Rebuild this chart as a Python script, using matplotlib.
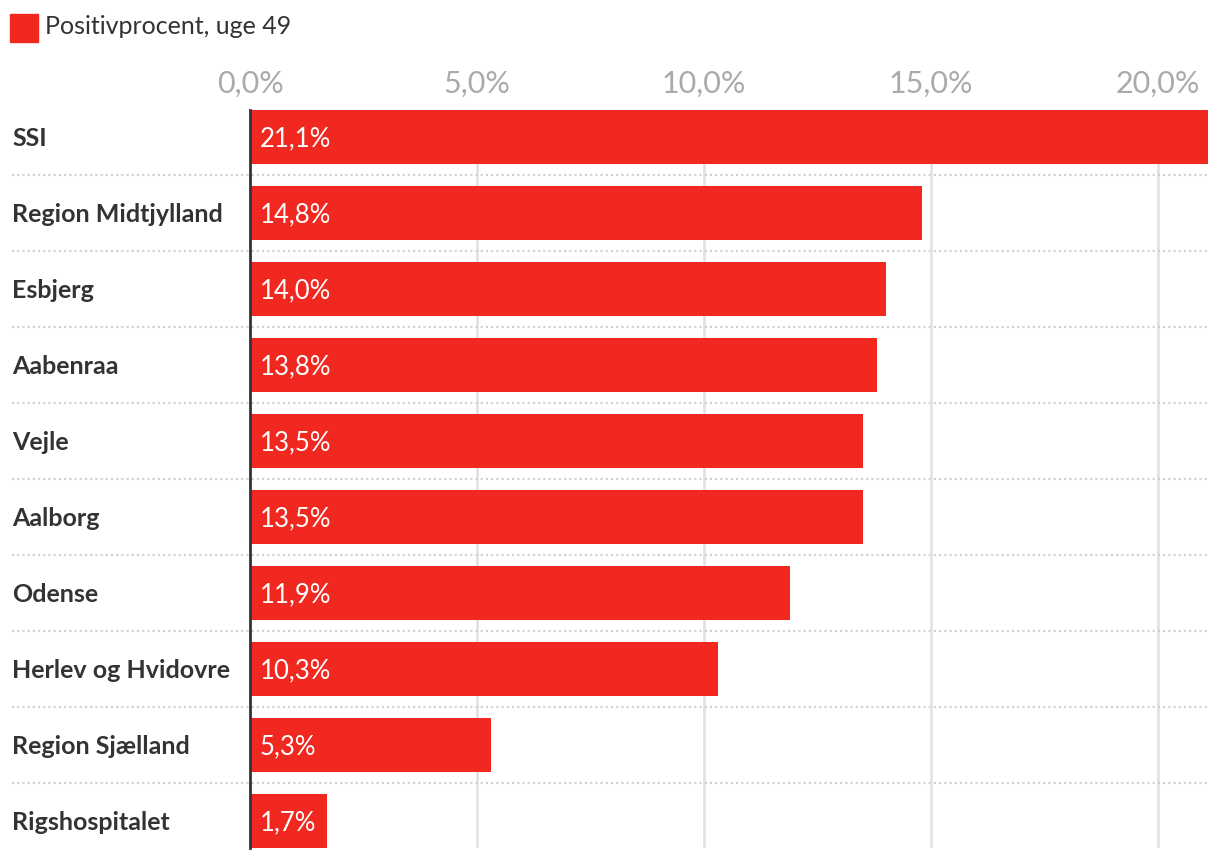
import numpy as np
import matplotlib.pyplot as plt
import matplotlib.transforms as mtransforms
from matplotlib.patches import Rectangle

plt.rcParams['font.family'] = ['Lato', 'DejaVu Sans']

kategorier = ["SSI", "Region Midtjylland", "Esbjerg", "Aabenraa", "Vejle",
              "Aalborg", "Odense", "Herlev og Hvidovre", "Region Sjælland",
              "Rigshospitalet"]
positiv = [21.1, 14.8, 14.0, 13.8, 13.5, 13.5, 11.9, 10.3, 5.3, 1.7]
xticks = [0, 5, 10, 15, 20]
serie_navn = "Positivprocent, uge 49"

rod = "#f0281f"
W, H = 1220, 860

fig = plt.figure(figsize=(W / 100, H / 100), dpi=100)
ax = fig.add_axes([250 / W, 12 / H, (1208 - 250) / W, (848 - 110) / H])

y = np.arange(len(kategorier))
bh = 0.71
ax.barh(y, positiv, height=bh, color=rod, zorder=3)
ax.set_ylim(len(kategorier) - 1 + bh / 2, -bh / 2)
ax.set_xlim(0, 21.1)

# lodrette gitterlinjer
for t in xticks[1:]:
    ax.axvline(t, color="#e3e3e3", lw=2, zorder=1)

# prikkede skillelinjer mellem rækkerne (går ind i label-området)
trans = mtransforms.blended_transform_factory(ax.transAxes, ax.transData)
x0 = (12 - 250) / (1208 - 250)
for i in range(len(kategorier) - 1):
    ax.plot([x0, 1], [i + 0.5, i + 0.5], transform=trans, color="#cfcfcf",
            lw=1.5, ls=(0, (1, 1.5)), clip_on=False, zorder=2)

# værdier i søjlerne
for yi, v in zip(y, positiv):
    ax.text(0.22, yi + 0.02, f"{v:.1f}%".replace(".", ","), color="white",
            fontsize=18.5, va="center", ha="left", zorder=4)

# kategorier til venstre
for yi, k in zip(y, kategorier):
    ax.text(x0, yi + 0.02, k, transform=trans, color="#333333", fontsize=18,
            fontweight="bold", va="center", ha="left")

ax.set_yticks([])
ax.xaxis.tick_top()
ax.set_xticks(xticks)
ax.set_xticklabels([f"{t:.1f}%".replace(".", ",") for t in xticks])
ax.tick_params(axis="x", length=0, pad=9, labelsize=22, labelcolor="#aaaaaa")

for s in ["top", "right", "bottom"]:
    ax.spines[s].set_visible(False)
ax.spines["left"].set_color("#333333")
ax.spines["left"].set_linewidth(2)
ax.spines["left"].set_zorder(5)

# forklaring øverst
fig.patches.append(Rectangle((10 / W, 1 - 42 / H), 28 / W, 28 / H,
                             transform=fig.transFigure, color=rod))
fig.text(45 / W, 1 - 27 / H, serie_navn, fontsize=18, color="#333333",
         va="center", ha="left")

fig.savefig("out.png", dpi=100)
